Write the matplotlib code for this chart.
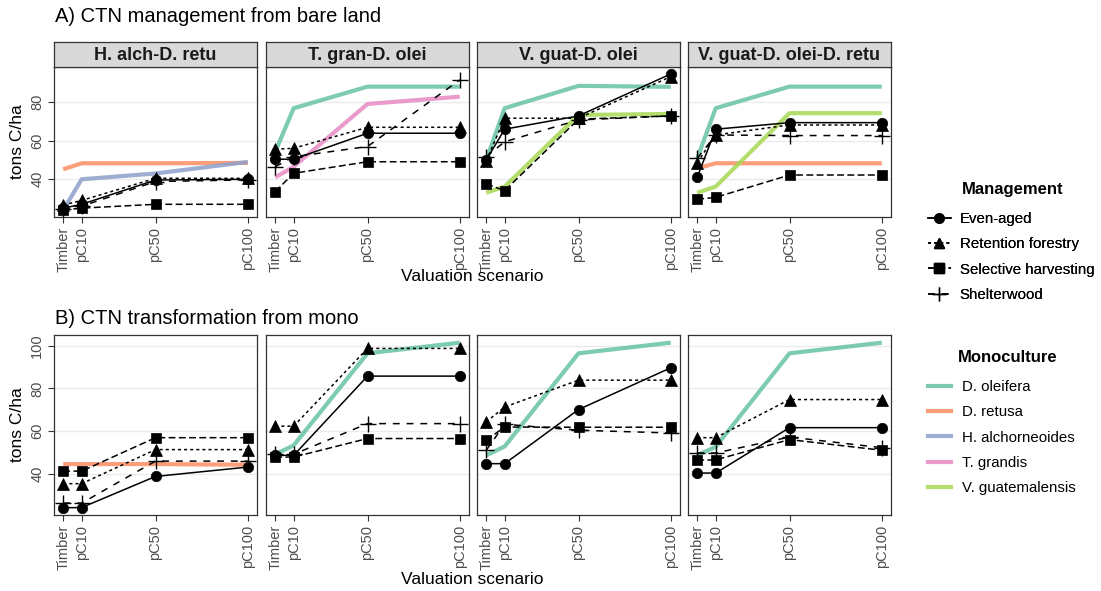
import numpy as np
import matplotlib
matplotlib.use("Agg")
import matplotlib.pyplot as plt
from matplotlib.lines import Line2D

plt.rcParams['font.family'] = ['Liberation Sans', 'DejaVu Sans']

# escenarios de valoración (x continuo)
prices = [0, 10, 50, 100]
price_labels = ["Timber", "pC10", "pC50", "pC100"]
panel_names = ["H. alch-D. retu", "T. gran-D. olei", "V. guat-D. olei", "V. guat-D. olei-D. retu"]

management = ["Even-aged", "Retention forestry", "Selective harvesting", "Shelterwood"]
mono_names = ["D. oleifera", "D. retusa", "H. alchorneoides", "T. grandis", "V. guatemalensis"]
mono_colors = ["#66C2A5", "#FC8D62", "#8DA0CB", "#E78AC3", "#A6D854"]

# A) desde suelo desnudo: un valor por escenario y por panel
a_even = [[25, 27, 39.6, 40], [50.4, 50.4, 63.9, 63.9], [50, 66, 72.9, 94.7], [41, 66, 69.4, 69.4]]
a_retention = [[26.6, 29, 40.5, 40.5], [55.6, 56.1, 67, 67], [49.6, 71.7, 71.7, 93.3], [48.6, 63, 68.2, 68.2]]
a_selective = [[24, 25, 27, 27], [33.6, 43.1, 49.1, 49.1], [37.6, 34.1, 71.2, 72.9], [29.6, 30.6, 42.2, 42.2]]
a_shelter = [[24.5, 26, 38.8, 39.7], [46.5, 51.7, 57, 91.6], [51.7, 59.5, 70.8, 72.9], [50.9, 63, 62.7, 62.7]]
a_mono_species = [["D. retusa", "H. alchorneoides"], ["D. oleifera", "T. grandis"],
                  ["D. oleifera", "V. guatemalensis"], ["D. oleifera", "D. retusa", "V. guatemalensis"]]
a_mono_values = [[[45.2, 48.3, 48.3, 48.5], [24, 40, 43, 49]],
                 [[54.3, 76.9, 88.1, 88.1], [41, 46.5, 79.1, 82.9]],
                 [[50, 76.9, 88.5, 88], [33, 36.2, 73.4, 73.9]],
                 [[50.9, 76.9, 88.1, 88.1], [45.7, 48.3, 48.3, 48.3], [33, 36.2, 74.3, 74.3]]]

# B) transformación desde monocultivo
b_even = [[24, 24.1, 38.7, 43.1], [48.6, 48.6, 85.8, 85.8], [44.7, 44.7, 70.1, 89.7], [40.3, 40.3, 61.6, 61.6]]
b_retention = [[35.3, 35.3, 51.3, 51.3], [62.3, 62.3, 98.8, 98.8], [64.3, 71.3, 83.9, 83.9], [56.9, 56.9, 74.8, 74.8]]
b_selective = [[41.2, 41.2, 56.9, 56.9], [47.8, 47.8, 56.5, 56.5], [55.7, 61.9, 61.8, 61.8], [46.3, 46.5, 56, 51]]
b_shelter = [[26.2, 26.2, 45.9, 45.9], [49.1, 49.1, 63.5, 63.5], [51, 63.2, 60.4, 59.1], [49.7, 49.7, 57.2, 52.2]]
b_mono_species = [["D. retusa"], ["D. oleifera"], ["D. oleifera"], ["D. oleifera"]]
b_mono_values = [[[44.5, 44.5, 44.5, 44.2]],
                 [[49.1, 53.3, 96.5, 101.5]],
                 [[48.6, 52.8, 96.5, 101.5]],
                 [[48.6, 52.6, 96.5, 101.5]]]

styles = {
    "Even-aged": dict(marker='o', ls='-', ms=7.5),
    "Retention forestry": dict(marker='^', ls=(0, (2, 2)), ms=8.5),
    "Selective harvesting": dict(marker='s', ls=(0, (4.5, 2.2)), ms=7.5),
    "Shelterwood": dict(marker='+', ls=(0, (4.5, 4.5)), ms=11),
}

fig = plt.figure(figsize=(11.01, 5.91), dpi=100)
W, H = 1101, 591
lefts = [54, 266, 477, 688]
pw = 203


def draw_row(top, bottom, ylim, yticks, mgmt_data, mono_sp, mono_val, strips):
    axes = []
    for i in range(4):
        ax = fig.add_axes([lefts[i] / W, 1 - bottom / H, pw / W, (bottom - top) / H])
        for sp, vals in zip(mono_sp[i], mono_val[i]):
            ax.plot(prices, vals, color=mono_colors[mono_names.index(sp)], lw=3.0, alpha=0.85,
                    solid_capstyle='butt', zorder=2)
        for name, data in zip(management, mgmt_data):
            st = styles[name]
            ax.plot(prices, data[i], color='black', lw=1.1, ls=st['ls'], marker=st['marker'],
                    ms=st['ms'], mew=1.0 if st['marker'] == '+' else 0.5, zorder=3)
        ax.set_xlim(-5, 105)
        ax.set_ylim(*ylim)
        ax.set_yticks(yticks)
        ax.set_xticks(prices)
        ax.set_xticklabels(price_labels, rotation=90, fontsize=10.5, color='#4D4D4D')
        ax.grid(axis='y', color='#EBEBEB', lw=1.0)
        ax.set_axisbelow(True)
        ax.tick_params(colors='#333333', length=4, width=0.8, labelcolor='#4D4D4D', pad=3)
        if i == 0:
            ax.set_yticklabels([str(t) for t in yticks], rotation=90, va='center', fontsize=10.5)
        else:
            ax.tick_params(axis='y', length=0, labelleft=False)
        for s in ax.spines.values():
            s.set_color('#333333')
            s.set_linewidth(0.9)
        if strips:
            sax = fig.add_axes([lefts[i] / W, 1 - top / H, pw / W, 25 / H])
            sax.set_xticks([])
            sax.set_yticks([])
            sax.set_facecolor('#D9D9D9')
            for s in sax.spines.values():
                s.set_color('#333333')
                s.set_linewidth(0.9)
            sax.text(0.5, 0.45, strips[i], ha='center', va='center', fontsize=13,
                     fontweight='bold', color='#1A1A1A', transform=sax.transAxes)
        axes.append(ax)
    return axes


draw_row(67, 217, (20.4, 98.3), [40, 60, 80], [a_even, a_retention, a_selective, a_shelter],
         a_mono_species, a_mono_values, panel_names)
draw_row(335, 515, (20.6, 105.1), [40, 60, 80, 100], [b_even, b_retention, b_selective, b_shelter],
         b_mono_species, b_mono_values, None)

fig.text(55 / W, 1 - 16 / H, "A) CTN management from bare land", fontsize=14.5, va='center')
fig.text(55 / W, 1 - 319 / H, "B) CTN transformation from mono", fontsize=14.5, va='center')
for yy in (276, 580):
    fig.text(472 / W, 1 - yy / H, "Valuation scenario", fontsize=12.5, ha='center', va='center')
for yy in (142, 425):
    fig.text(18 / W, 1 - yy / H, "tons C/ha", fontsize=12.5, rotation=90, ha='center', va='center')

# leyendas
fig.text(1013 / W, 1 - 190 / H, "Management", fontsize=12, fontweight='bold', ha='center', va='center')
mg_handles = [Line2D([], [], color='black', lw=1.1, ls=styles[n]['ls'], marker=styles[n]['marker'],
                     ms=styles[n]['ms'] * 0.9, mew=1.0) for n in management]
leg1 = fig.legend(mg_handles, management, loc='upper left', bbox_to_anchor=(922 / W, 1 - 206 / H),
                  frameon=False, fontsize=10.8, handlelength=1.5, labelspacing=0.75,
                  handletextpad=0.6, borderaxespad=0)
fig.text(1008 / W, 1 - 358 / H, "Monoculture", fontsize=12, fontweight='bold', ha='center', va='center')
mo_handles = [Line2D([], [], color=c, lw=3.0, alpha=0.85) for c in mono_colors]
fig.legend(mo_handles, mono_names, loc='upper left', bbox_to_anchor=(922 / W, 1 - 374 / H),
           frameon=False, fontsize=10.8, handlelength=1.5, labelspacing=0.75,
           handletextpad=0.8, borderaxespad=0)
fig.add_artist(leg1)

fig.savefig("out.png", dpi=100)
